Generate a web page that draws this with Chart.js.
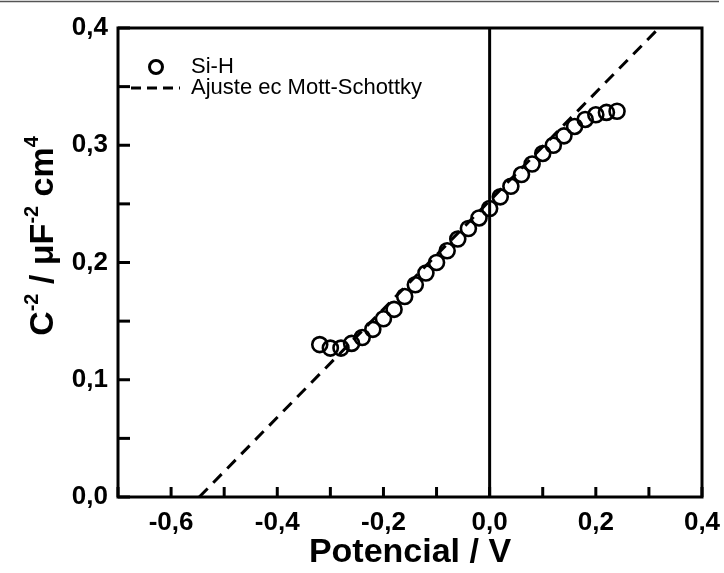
<!DOCTYPE html>
<html><head><meta charset="utf-8">
<script src="https://cdn.jsdelivr.net/npm/chart.js@4.4.1/dist/chart.umd.min.js"></script>
<style>html,body{margin:0;padding:0;background:#fff}#wrap{width:724px;height:573px}</style>
</head><body><div id="wrap"><canvas id="c" width="724" height="573"></canvas></div>
<script>
const potential = [-0.32,-0.30,-0.28,-0.26,-0.24,-0.22,-0.20,-0.18,-0.16,-0.14,-0.12,-0.10,-0.08,-0.06,-0.04,-0.02,0.00,0.02,0.04,0.06,0.08,0.10,0.12,0.14,0.16,0.18,0.20,0.22,0.24];
const capInv2 = [0.130,0.127,0.127,0.131,0.136,0.143,0.152,0.160,0.171,0.181,0.191,0.200,0.210,0.220,0.229,0.238,0.246,0.256,0.265,0.275,0.284,0.293,0.300,0.308,0.316,0.322,0.326,0.328,0.329];
const fitX = [-0.547, 0.319];
const fitY = [0.0, 0.4];
const zeroX = [0, 0];
const zeroY = [0, 0.4];
const seriesLabels = ['Si-H', 'Ajuste ec Mott-Schottky'];
const xTitle = 'Potencial / V';
// y title pieces: [text, isSuperscript]
const yTitleParts = [['C', false], ['-2', true], [' / \u03BCF', false], ['-2', true], [' cm', false], ['4', true]];

const FONT = '"Liberation Sans", Arial, sans-serif';
const fmt = v => { if (Math.abs(v) < 1e-9) v = 0; return v.toFixed(1).replace('.', ','); };

const framePlugin = {
  id: 'frame',
  afterDraw(chart) {
    const ctx = chart.ctx, a = chart.chartArea;
    const xs = chart.scales.x, ys = chart.scales.y;
    ctx.save();
    ctx.strokeStyle = '#555'; ctx.lineWidth = 1.5;
    ctx.beginPath(); ctx.moveTo(0, 1.5); ctx.lineTo(719, 1.5); ctx.stroke();
    ctx.strokeStyle = '#000'; ctx.lineWidth = 3; ctx.lineCap = 'butt';
    ctx.strokeRect(a.left, a.top, a.right - a.left, a.bottom - a.top);
    xs.ticks.forEach(t => {
      const px = xs.getPixelForValue(t.value);
      ctx.beginPath(); ctx.moveTo(px, a.bottom); ctx.lineTo(px, a.bottom - 10); ctx.stroke();
    });
    ys.ticks.forEach(t => {
      const py = ys.getPixelForValue(t.value);
      ctx.beginPath(); ctx.moveTo(a.left, py); ctx.lineTo(a.left + 12, py); ctx.stroke();
    });
    // legend
    ctx.lineWidth = 3;
    ctx.beginPath(); ctx.arc(156, 67, 6.5, 0, Math.PI * 2); ctx.stroke();
    ctx.setLineDash([10, 6]);
    ctx.beginPath(); ctx.moveTo(131, 88); ctx.lineTo(180, 88); ctx.stroke();
    ctx.setLineDash([]);
    ctx.fillStyle = '#000';
    ctx.font = '22px ' + FONT;
    ctx.textBaseline = 'middle';
    ctx.fillText(seriesLabels[0], 191, 67);
    ctx.fillText(seriesLabels[1], 191, 88);
    // y title with superscripts, rotated
    const big = 'bold 34px ' + FONT, small = 'bold 20px ' + FONT;
    let total = 0;
    yTitleParts.forEach(([t, sup]) => { ctx.font = sup ? small : big; total += ctx.measureText(t).width; });
    ctx.translate(53, 236);
    ctx.rotate(-Math.PI / 2);
    ctx.textBaseline = 'alphabetic';
    let cx = -total / 2;
    yTitleParts.forEach(([t, sup]) => {
      ctx.font = sup ? small : big;
      ctx.fillText(t, cx, sup ? -15 : 0);
      cx += ctx.measureText(t).width;
    });
    ctx.restore();
  }
};

new Chart(document.getElementById('c'), {
  type: 'scatter',
  data: {
    datasets: [
      {
        label: seriesLabels[0],
        data: potential.map((x, i) => ({x, y: capInv2[i]})),
        pointStyle: 'circle', pointRadius: 7.5, pointBorderWidth: 2.6,
        pointBorderColor: '#000', pointBackgroundColor: 'rgba(0,0,0,0)',
        showLine: false, order: 1
      },
      {
        label: seriesLabels[1],
        data: fitX.map((x, i) => ({x, y: fitY[i]})),
        showLine: true, borderColor: '#000', borderWidth: 3, borderDash: [12, 8],
        pointRadius: 0, order: 2
      },
      {
        label: 'zero',
        data: zeroX.map((x, i) => ({x, y: zeroY[i]})),
        showLine: true, borderColor: '#000', borderWidth: 3,
        pointRadius: 0, order: 3
      }
    ]
  },
  options: {
    responsive: false, animation: false, devicePixelRatio: 1,
    layout: { padding: { top: 28, right: 22, left: 0, bottom: 0 } },
    plugins: { legend: { display: false }, tooltip: { enabled: false } },
    scales: {
      x: {
        type: 'linear', min: -0.7, max: 0.4,
        grid: { display: false, drawTicks: false },
        border: { display: false },
        ticks: { stepSize: 0.1, padding: 10, color: '#000', maxRotation: 0, autoSkip: false,
          font: { family: FONT, size: 26, weight: 'bold' },
          callback: v => (Math.round(v * 10) % 2 === 0 ? fmt(v) : '') },
        title: { display: true, text: xTitle, color: '#000', padding: { top: 0, bottom: 0 },
          font: { family: FONT, size: 34, weight: 'bold' } },
        afterFit: s => { s.height = 76; s.paddingLeft = 0; s.paddingRight = 0; }
      },
      y: {
        type: 'linear', min: 0, max: 0.4,
        grid: { display: false, drawTicks: false },
        border: { display: false },
        ticks: { stepSize: 0.05, padding: 10, color: '#000', autoSkip: false,
          font: { family: FONT, size: 26, weight: 'bold' },
          callback: v => (Math.round(v * 100) % 10 === 0 ? fmt(v) : '') },
        afterFit: s => { s.width = 118; s.paddingTop = 0; s.paddingBottom = 0; }
      }
    }
  },
  plugins: [framePlugin]
});
</script></body></html>
